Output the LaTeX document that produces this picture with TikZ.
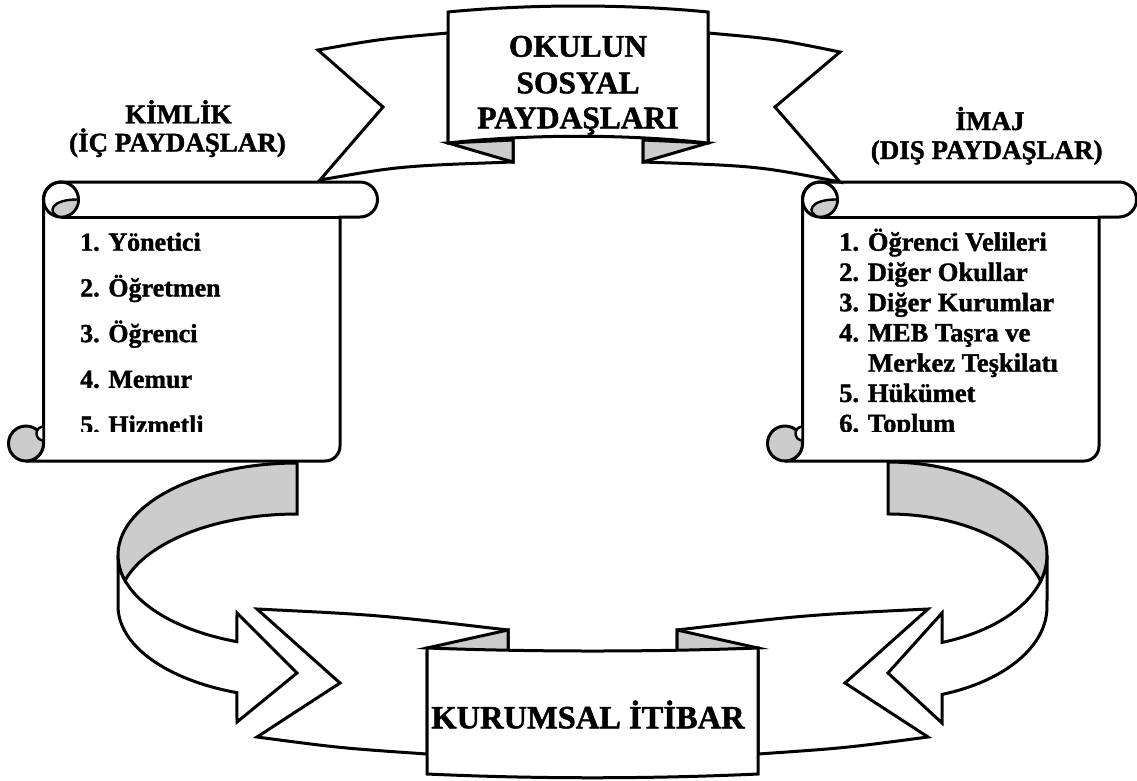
\documentclass[tikz,border=0pt]{standalone}
\usepackage{fontspec}
\setmainfont{Liberation Serif}[BoldFeatures={FakeBold=1.4}]
\definecolor{foldgray}{RGB}{204,204,204}
\tikzset{
  outline/.style={draw=black, line width=3pt, line join=miter},
  whitepart/.style={outline, fill=white},
  graypart/.style={outline, fill=foldgray},
  curl/.style={draw=black, line width=2.4pt},
  bigtitle/.style={font=\fontsize{31.5}{36}\selectfont\bfseries, inner sep=0pt, anchor=base},
  heading/.style={font=\fontsize{27}{30}\selectfont\bfseries, inner sep=0pt, anchor=base},
  leftitem/.style={font=\fontsize{26}{30}\selectfont\bfseries, inner sep=0pt, anchor=base west},
  rightitem/.style={font=\fontsize{26.5}{30}\selectfont\bfseries, inner sep=0pt, anchor=base west},
  % a vertical scroll: top roll, sheet and curled bottom end
  scrollsheet/.pic={
    \path[whitepart] (61,182) -- (360,182) arc[start angle=270, end angle=450, radius=17.5]
      -- (340,217) -- (340,446) arc[start angle=0, end angle=90, radius=15]
      -- (26,461) arc[start angle=90, end angle=0, radius=17.5]
      -- (43.5,199.5) arc[start angle=180, end angle=270, radius=17.5] -- cycle;
    \draw[outline] (61,217) -- (340,217);
    \draw[outline] (61,199.5) circle[radius=17.5];
    \path[curl, fill=foldgray] (78.5,199.5) arc[start angle=0, end angle=95, radius=17.5]
      .. controls (47,213) and (50,199) .. (78.5,199.5) -- cycle;
    \path[graypart] (26,443.5) circle[radius=17.5];
    \path[curl, fill=white] (43.5,426.5) arc[start angle=270, end angle=90, radius=7] -- cycle;
  },
}
\begin{document}
\begin{tikzpicture}[x=1pt, y=-1pt]
\useasboundingbox (0,0) rectangle (1137,780);

% ---- curved arrows from the scrolls down to the bottom banner ----
% left arrow: front band with head, then the shaded back band
\path[whitepart] (118,555) arc[start angle=180, end angle=109.6, x radius=179, y radius=92]
  -- (237,613) -- (297,673) -- (237,722) -- (236.96,692.67)
  arc[start angle=109.6, end angle=180, x radius=179, y radius=92] -- cycle;
\path[graypart] (297,463) arc[start angle=270, end angle=163.9, x radius=179, y radius=92]
  arc[start angle=196.1, end angle=270, x radius=179, y radius=92] -- cycle;
% right arrow
\path[whitepart] (1047,555) arc[start angle=0, end angle=70.1, x radius=159, y radius=93]
  -- (942,613) -- (888,673) -- (942,723) -- (942.1,694.4)
  arc[start angle=70.1, end angle=0, x radius=159, y radius=93] -- cycle;
\path[graypart] (888,462) arc[start angle=-90, end angle=16.23, x radius=159, y radius=93]
  arc[start angle=-16.23, end angle=-90, x radius=159, y radius=93] -- cycle;

% ---- the two scrolls ----
\path (0,0) pic {scrollsheet};
\path (759,0) pic {scrollsheet};

% ---- top banner ----
\path[whitepart] (448,33) .. controls (380,39) .. (318,50) -- (383,107) -- (320,180)
  .. controls (400,166) .. (513,162) -- (513,142) -- (448,142) -- cycle;
\path[whitepart] (708,33) .. controls (776,39) .. (840,52) -- (775,107) -- (840,182)
  .. controls (758,166) .. (643,162) -- (643,142) -- (708,142) -- cycle;
\path[graypart] (448,143) -- (513,140) -- (513,162) -- cycle;
\path[graypart] (708,143) -- (643,140) -- (643,162) -- cycle;
\path[whitepart] (448,143) -- (448,12) .. controls (530,4) and (626,4) .. (708,12)
  -- (708,143) .. controls (626,134) and (530,134) .. (448,143) -- cycle;

% ---- bottom banner ----
\path[whitepart] (427,754) .. controls (340,748) .. (257,737) -- (340,683) -- (257,609)
  .. controls (380,615) .. (508,630) -- (508,652) -- (427,652) -- cycle;
\path[whitepart] (758,754) .. controls (845,748) .. (928,737) -- (845,683) -- (928,609)
  .. controls (805,615) .. (677,630) -- (677,652) -- (758,652) -- cycle;
\path[graypart] (427,648) -- (508,630) -- (508,652) -- cycle;
\path[graypart] (758,648) -- (677,630) -- (677,652) -- cycle;
\path[whitepart] (427,648) .. controls (537,652) and (648,652) .. (758,648)
  -- (758,774) .. controls (648,779) and (537,779) .. (427,774) -- cycle;

% ---- texts ----
\node[bigtitle] (okulun) at (578,56.7) {OKULUN};
\node[bigtitle] (sosyal) at (578,93.3) {SOSYAL};
\node[bigtitle] (paydaslari) at (578,128.3) {PAYDAŞLARI};
\node[bigtitle, font=\fontsize{32.5}{36}\selectfont\bfseries] (itibar) at (588,728.3) {KURUMSAL İTİBAR};

\node[heading] (kimlik) at (178.5,123.3) {KİMLİK};
\node[heading] (icpay) at (177.5,151.5) {(İÇ PAYDAŞLAR)};
\node[heading] (imaj) at (990,130) {İMAJ};
\node[heading] (dispay) at (986.7,159) {(DIŞ PAYDAŞLAR)};

\begin{scope}
  \clip (0,170) rectangle (1137,431.5);
  \node[leftitem] (l1) at (80,250.7) {1. Yönetici};
  \node[leftitem] (l2) at (80,296.4) {2. Öğretmen};
  \node[leftitem] (l3) at (80,342.1) {3. Öğrenci};
  \node[leftitem] (l4) at (80,387.8) {4. Memur};
  \node[leftitem] (l5) at (80,433.5) {5. Hizmetli};
  \node[rightitem] (r1) at (839,250.7) {1. Öğrenci Velileri};
  \node[rightitem] (r2) at (839,280.95) {2. Diğer Okullar};
  \node[rightitem] (r3) at (839,311.2) {3. Diğer Kurumlar};
  \node[rightitem] (r4) at (839,341.45) {4. MEB Taşra ve};
  \node[rightitem] (r4b) at (868,371.7) {Merkez Teşkilatı};
  \node[rightitem] (r5) at (839,401.95) {5. Hükümet};
  \node[rightitem] (r6) at (839,432.2) {6. Toplum};
\end{scope}
\end{tikzpicture}
\end{document}
